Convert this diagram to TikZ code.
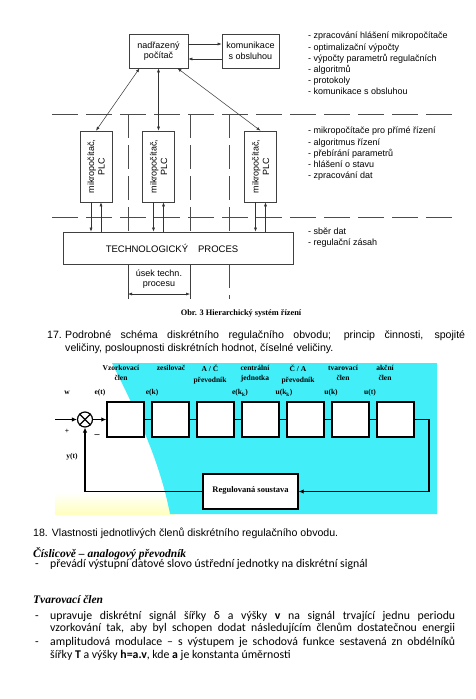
\documentclass[tikz,border=0pt]{standalone}
\usepackage{fontspec}
\setmainfont{Liberation Serif}
\setsansfont{Liberation Sans}
\newfontfamily\calibrifont{Carlito}
\usetikzlibrary{arrows.meta,positioning}
\definecolor{bgcyan}{RGB}{66,238,248}

\begin{document}
\begin{tikzpicture}[x=1pt,y=-1pt,
    node distance=6.6pt,
    box/.style={rectangle,draw=black!75,line width=0.6pt,fill=white,align=center,inner sep=0pt,font=\sffamily\fontsize{9}{10.5}\selectfont},
    plc/.style={rectangle,draw=black!75,line width=0.6pt,fill=white,minimum width=32pt,minimum height=71pt,inner sep=0pt},
    plctext/.style={rotate=90,align=center,inner sep=0pt,font=\sffamily\fontsize{9}{10.5}\selectfont},
    arrow/.style={-{Latex[length=4pt,width=3pt]},line width=0.5pt,black!80},
    darrow/.style={{Latex[length=4pt,width=3pt]}-{Latex[length=4pt,width=3pt]},line width=0.5pt,black!80},
    level/.style={dash pattern=on 26pt off 8pt,line width=0.6pt,black!70},
    cut/.style={dash pattern=on 24pt off 7pt,line width=0.6pt,black!70},
    note/.style={anchor=north west,align=left,inner sep=0pt,font=\sffamily\fontsize{9}{11.2}\selectfont},
    blk/.style={rectangle,draw=black,line width=1.4pt,fill=white,minimum width=37pt,minimum height=35pt,inner sep=0pt},
    sumj/.style={circle,draw=black,line width=1.2pt,fill=white,minimum size=15pt,inner sep=0pt},
    sline/.style={line width=1.3pt},
    sarrow/.style={-{Latex[length=5pt,width=4.5pt]},line width=1.3pt},
    lbl/.style={align=center,inner sep=0pt,font=\bfseries\fontsize{7.5}{10.5}\selectfont},
    body/.style={anchor=base west,inner sep=0pt,font=\sffamily\fontsize{10.6}{12}\selectfont},
    cbody/.style={anchor=base west,inner sep=0pt,font=\calibrifont\fontsize{11.8}{13}\selectfont},
    head/.style={anchor=base west,inner sep=0pt,font=\bfseries\itshape\fontsize{11.5}{12}\selectfont}
  ]
  \useasboundingbox (0,0) rectangle (476,699);
  \fill[white] (0,0) rectangle (476,699);

  % hierarchy of control levels
  \draw[level] (52,114) -- (455,114);
  \draw[level] (52,217) -- (455,217);
  \draw[cut] (128,114) -- (128,232);
  \draw[cut] (190,114) -- (190,232);
  \draw[cut] (229,114) -- (229,232);
  \draw[line width=0.6pt,black!75] (128,264) -- (128,299);
  \draw[line width=0.6pt,black!75] (190,264) -- (190,299);
  \draw[cut] (229,264) -- (229,299);

  \node[box,minimum width=59pt,minimum height=34pt] (nad) at (158.5,51) {nadřazený\\počítač};
  \node[box,minimum width=57pt,minimum height=34pt] (kom) at (250.5,51) {komunikace\\s obsluhou};
  \draw[arrow] ([yshift=7pt]nad.east) -- ([yshift=7pt]kom.west);
  \draw[arrow] ([yshift=-8pt]kom.west) -- ([yshift=-8pt]nad.east);

  \node[plc] (p1) at (96,166.5) {};
  \node[plctext] (p1t) at (p1) {mikropočítač,\\PLC};
  \node[plc] (p2) at (158.5,166.5) {};
  \node[plctext] (p2t) at (p2) {mikropočítač,\\PLC};
  \node[plc] (p3) at (260.5,166.5) {};
  \node[plctext] (p3t) at (p3) {mikropočítač,\\PLC};
  \draw[darrow] (p1.north) -- ([xshift=-19pt]nad.south);
  \draw[darrow] (p2.north) -- (nad.south);
  \draw[darrow] (p3.north) -- ([xshift=19pt]nad.south);

  \node[box,minimum width=230pt,minimum height=32pt,font=\sffamily\fontsize{9.5}{11}\selectfont] (tech) at (178,248) {TECHNOLOGICKÝ\hspace{10pt}PROCES\hspace{12pt}};
  \draw[arrow] ([xshift=-5pt]p1.south) -- ([xshift=-5pt]p1.south |- tech.north);
  \draw[arrow] ([xshift=5pt]p1.south |- tech.north) -- ([xshift=5pt]p1.south);
  \draw[arrow] ([xshift=-5pt]p2.south) -- ([xshift=-5pt]p2.south |- tech.north);
  \draw[arrow] ([xshift=5pt]p2.south |- tech.north) -- ([xshift=5pt]p2.south);
  \draw[arrow] ([xshift=-5pt]p3.south) -- ([xshift=-5pt]p3.south |- tech.north);
  \draw[arrow] ([xshift=5pt]p3.south |- tech.north) -- ([xshift=5pt]p3.south);

  \node[box,draw=none,fill=none] (usek) at (159,279) {úsek techn.\\procesu};
  \coordinate (u1) at (128,294);
  \coordinate (u2) at (190,294);
  \draw[darrow] (u1) -- (u2);

  \node[note] (n1) at (308,32) {- zpracování hlášení mikropočítače\\- optimalizační výpočty\\- výpočty parametrů regulačních\\- algoritmů\\- protokoly\\- komunikace s obsluhou};
  \node[note] (n2) at (308,127) {- mikropočítače pro přímé řízení\\- algoritmus řízení\\- přebírání parametrů\\- hlášení o stavu\\- zpracování dat};
  \node[note] (n3) at (308,228) {- sběr dat\\- regulační zásah};

  \node[font=\bfseries\fontsize{8.3}{10}\selectfont,inner sep=0pt] (cap) at (241,313) {Obr. 3 Hierarchický systém řízení};

  \node[body] (q17n) at (47,338.5) {17.};
  \node[body] (q17a) at (65,338.5) {\makebox[400pt][s]{Podrobné schéma diskrétního regulačního obvodu; princip činnosti, spojité}};
  \node[body] (q17b) at (65,351.5) {veličiny, posloupnosti diskrétních hodnot, číselné veličiny.};

  % discrete control loop
  \shade[top color=white,bottom color=yellow!25] (55,492) rectangle (175,514);
  \fill[bgcyan] (112,363) -- (437,363) -- (437,514) -- (170,514) .. controls (160,462) and (138,415) .. (112,363) -- cycle;

  \node[blk] (b1) at (125.5,419.5) {};
  \node[blk,right=of b1] (b2) {};
  \node[blk,right=of b2] (b3) {};
  \node[blk,right=of b3] (b4) {};
  \node[blk,right=of b4] (b5) {};
  \node[blk,right=of b5] (b6) {};
  \node[blk,right=of b6] (b7) {};
  \draw[sline] (b1) -- (b2);
  \draw[sline] (b2) -- (b3);
  \draw[sline] (b3) -- (b4);
  \draw[sline] (b4) -- (b5);
  \draw[sline] (b5) -- (b6);
  \draw[sline] (b6) -- (b7);

  \node[sumj] (sum) at (85,419.5) {};
  \draw[sline] (sum.north west) -- (sum.south east);
  \draw[sline] (sum.north east) -- (sum.south west);
  \coordinate (win) at (55,419.5);
  \draw[sarrow] (win) -- (sum);
  \draw[sarrow] (sum) -- (b1);

  \node[blk,minimum width=95pt,font=\bfseries\fontsize{8.5}{10}\selectfont] (reg) at (250.5,491.5) {\raisebox{4pt}{Regulovaná soustava}};
  \coordinate (turn) at (429,419.5);
  \draw[sarrow] (b7) -- (turn) |- (reg);
  \draw[sarrow] (reg) -| (sum);

  \node[lbl,anchor=north] (l1) at (121,365) {Vzorkovací\\člen};
  \node[lbl,anchor=north] (l2) at (171,365) {zesilovač};
  \node[lbl,anchor=north] (l3) at (210,365) {A / Č\\převodník};
  \node[lbl,anchor=north] (l4) at (255,365) {centrální\\jednotka};
  \node[lbl,anchor=north] (l5) at (298,365) {Č / A\\převodník};
  \node[lbl,anchor=north] (l6) at (343,365) {tvarovací\\člen};
  \node[lbl,anchor=north] (l7) at (385,365) {akční\\člen};

  \node[lbl] (sw) at (67,393) {w};
  \node[lbl] (se1) at (100,393) {e(t)};
  \node[lbl] (se2) at (152,393) {e(k)};
  \node[lbl] (se3) at (240,393) {e(k\textsubscript{k})};
  \node[lbl] (su1) at (284,393) {u(k\textsubscript{k})};
  \node[lbl] (su2) at (331,393) {u(k)};
  \node[lbl] (su3) at (370,393) {u(t)};
  \node[lbl] (splus) at (67,431) {+};
  \node[lbl,font=\bfseries\fontsize{10}{10}\selectfont] (sminus) at (97,436) {--};
  \node[lbl] (sy) at (72,457) {y(t)};

  % text below
  \node[body] (q18) at (33,536.5) {18. Vlastnosti jednotlivých členů diskrétního regulačního obvodu.};
  \node[head] (h1) at (33,557.5) {Číslicově – analogový převodník};
  \node[cbody] (d1) at (35,567.5) {-};
  \node[cbody] (t1) at (50,567.5) {převádí výstupní datové slovo ústřední jednotky na diskrétní signál};
  \node[head] (h2) at (33,603.5) {Tvarovací člen};
  \node[cbody] (d2) at (35,619.5) {-};
  \node[cbody] (t2a) at (50,619.5) {\makebox[405pt][s]{upravuje diskrétní signál šířky δ a výšky \textbf{v} na signál trvající jednu periodu}};
  \node[cbody] (t2b) at (50,631.5) {\makebox[405pt][s]{vzorkování tak, aby byl schopen dodat následujícím členům dostatečnou energii}};
  \node[cbody] (d3) at (35,645.5) {-};
  \node[cbody] (t3a) at (50,645.5) {\makebox[405pt][s]{amplitudová modulace – s výstupem je schodová funkce sestavená zn obdélníků}};
  \node[cbody] (t3b) at (50,658.5) {šířky \textbf{T} a výšky \textbf{h=a.v}, kde \textbf{a} je konstanta úměrnosti};
\end{tikzpicture}
\end{document}
